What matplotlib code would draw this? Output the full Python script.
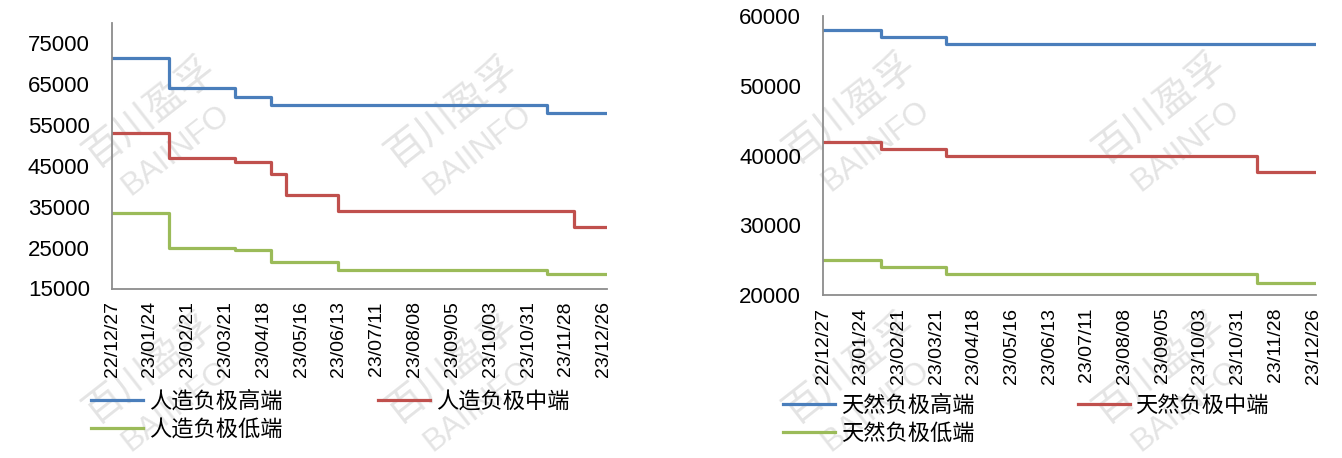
import matplotlib
matplotlib.use("Agg")
import matplotlib.pyplot as plt
import matplotlib.dates as mdates
import pandas as pd

plt.rcParams['font.family'] = ['Liberation Sans', 'Noto Sans CJK SC']

# %% Data (price steps)
left_dates = ['2022-12-27', '2023-02-07', '2023-03-28', '2023-04-24', '2023-05-05',
              '2023-06-12', '2023-11-14', '2023-12-04', '2023-12-28']
left_high = [71500, 64000, 62000, 60000, 60000, 60000, 58000, 58000, 58000]
left_mid = [53000, 47000, 46000, 43000, 38000, 34000, 34000, 30000, 30000]
left_low = [33500, 25000, 24500, 21500, 21500, 19500, 18500, 18500, 18500]
left_names = ['人造负极高端', '人造负极中端', '人造负极低端']

right_dates = ['2022-12-27', '2023-02-08', '2023-03-28', '2023-11-14', '2023-12-28']
right_high = [58000, 57000, 56000, 56000, 56000]
right_mid = [42000, 41000, 40000, 37700, 37700]
right_low = [25000, 24000, 23000, 21700, 21700]
right_names = ['天然负极高端', '天然负极中端', '天然负极低端']

left_yticks = [15000, 25000, 35000, 45000, 55000, 65000, 75000]
right_yticks = [20000, 30000, 40000, 50000, 60000]
tick_dates = pd.date_range('2022-12-27', '2023-12-26', freq='28D')

colors = ['#4a7ebb', '#c0504d', '#9bbb59']
W, H = 1342, 458


def px(x, y):
    return x / W, 1 - y / H


fig = plt.figure(figsize=(W / 100, H / 100), dpi=100)

# watermarks
wm_centers = [(150, 112), (452, 112), (850, 108), (1160, 108),
              (150, 368), (452, 368), (850, 368), (1160, 368)]
for cx, cy in wm_centers:
    fig.text(*px(cx, cy), '百川盈孚', fontsize=28, color='#e4e4e4', rotation=38,
             ha='center', va='center', family=['Noto Sans CJK SC'], zorder=-5)
    fig.text(*px(cx + 26, cy + 38), 'BAIINFO', fontsize=23, color='#e4e4e4', rotation=38,
             ha='center', va='center', zorder=-5)


def make_panel(rect, dates, series, names, ylim, yticks, legend_xy, colspace):
    ax = fig.add_axes(rect)
    ax.patch.set_alpha(0)
    d = pd.to_datetime(dates)
    lines = []
    for vals, c, n in zip(series, colors, names):
        ln, = ax.plot(d, vals, drawstyle='steps-post', color=c, lw=2.3, label=n)
        lines.append(ln)
    ax.set_ylim(*ylim)
    ax.set_yticks(yticks)
    ax.set_xlim(d[0], d[-1])
    ax.set_xticks(tick_dates)
    ax.xaxis.set_major_formatter(mdates.DateFormatter('%y/%m/%d'))
    for s in ['top', 'right']:
        ax.spines[s].set_visible(False)
    for s in ['left', 'bottom']:
        ax.spines[s].set_color('#8c8c8c')
        ax.spines[s].set_linewidth(1.3)
    ax.tick_params(axis='y', length=0, pad=16, labelsize=16)
    ax.tick_params(axis='x', length=0, pad=9, labelsize=14, labelrotation=90)
    # legend fills column-wise: high, low in first column, mid in second
    fig.legend(handles=[lines[0], lines[2], lines[1]], loc='upper left',
               bbox_to_anchor=px(*legend_xy), ncol=2, frameon=False,
               prop={'family': 'Noto Sans CJK SC', 'size': 16},
               handlelength=2.35, handletextpad=0.25, columnspacing=colspace,
               labelspacing=0.2, borderpad=0, borderaxespad=0)
    return ax


make_panel([112 / W, 1 - 288.5 / H, 494.5 / W, 265.5 / H], left_dates,
           [left_high, left_mid, left_low], left_names,
           (15000, 80000), left_yticks, (91, 390), 4.3)
make_panel([823.3 / W, 1 - 295 / H, 492.4 / W, 279 / H], right_dates,
           [right_high, right_mid, right_low], right_names,
           (20000, 60000), right_yticks, (783, 394), 4.65)

fig.savefig('out.png', dpi=100)
